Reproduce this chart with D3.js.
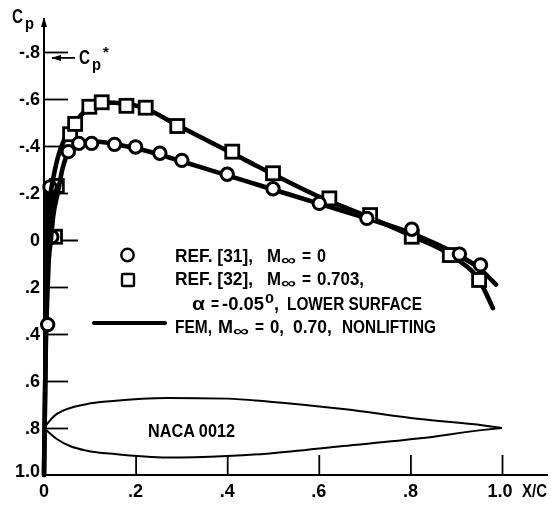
<!DOCTYPE html>
<html>
<head>
<meta charset="utf-8">
<script src="https://d3js.org/d3.v7.min.js"></script>
<style>
  html, body { margin: 0; padding: 0; background: #fff; }
  svg { display: block; filter: blur(0.45px); }
  text { font-family: "Liberation Sans", sans-serif; font-weight: bold; fill: #000; }
</style>
</head>
<body>
<div id="chart"></div>
<script>
// ref. [31], M = 0
const circleX = [0.008, 0.013, 0.017, 0.053, 0.076, 0.104, 0.154, 0.20, 0.253, 0.301, 0.40, 0.50, 0.601, 0.705, 0.803, 0.907, 0.953];
const circleCp = [0.36, -0.226, -0.013, -0.376, -0.411, -0.411, -0.407, -0.396, -0.369, -0.339, -0.28, -0.218, -0.156, -0.092, -0.046, 0.06, 0.106];

// ref. [32], M = 0.703
const squareX = [0.024, 0.028, 0.057, 0.068, 0.099, 0.126, 0.18, 0.222, 0.291, 0.411, 0.50, 0.623, 0.712, 0.803, 0.886, 0.95];
const squareCp = [-0.014, -0.23, -0.45, -0.494, -0.567, -0.586, -0.571, -0.563, -0.485, -0.376, -0.284, -0.177, -0.106, -0.014, 0.064, 0.17];

// FEM curves
const femLowX = [0, 0.002, 0.004, 0.007, 0.01, 0.015, 0.02, 0.03, 0.04, 0.055, 0.075, 0.1, 0.15, 0.2, 0.25, 0.3, 0.4, 0.5, 0.6, 0.7, 0.8, 0.9, 0.95, 0.987];
const femLowCp = [1.0, 0.7, 0.45, 0.25, 0.1, 0, -0.1, -0.2, -0.3, -0.38, -0.41, -0.42, -0.41, -0.39, -0.365, -0.335, -0.275, -0.215, -0.155, -0.095, -0.03, 0.06, 0.12, 0.19];
const femHighX = [0, 0.002, 0.004, 0.006, 0.008, 0.012, 0.02, 0.03, 0.045, 0.06, 0.08, 0.1, 0.13, 0.18, 0.22, 0.29, 0.35, 0.41, 0.5, 0.6, 0.7, 0.8, 0.9, 0.95, 0.98];
const femHighCp = [1.0, 0.7, 0.4, 0.1, 0, -0.15, -0.26, -0.35, -0.43, -0.48, -0.53, -0.565, -0.585, -0.58, -0.56, -0.49, -0.43, -0.37, -0.28, -0.185, -0.105, -0.02, 0.08, 0.17, 0.29];

// airfoil outline, in Cp axis units
const foilX = [0, 0.028, 0.094, 0.15, 0.27, 0.4, 0.493, 0.653, 0.821, 0.96, 1.0];
const foilUpper = [0.8, 0.74, 0.698, 0.685, 0.672, 0.675, 0.688, 0.719, 0.762, 0.789, 0.8];
const foilLower = [0.8, 0.847, 0.897, 0.91, 0.926, 0.919, 0.908, 0.877, 0.844, 0.808, 0.8];

// ticks
const xTicks = [0, 0.2, 0.4, 0.6, 0.8, 1.0];
const xTickLabels = ["0", ".2", ".4", ".6", ".8", "1.0"];
const yTicks = [-0.8, -0.6, -0.4, -0.2, 0, 0.2, 0.4, 0.6, 0.8, 1.0];
const yTickLabels = ["-.8", "-.6", "-.4", "-.2", "0", ".2", ".4", ".6", ".8", "1.0"];
const cpStar = -0.775;

const width = 551;
const height = 505;

const svg = d3.select("#chart").append("svg")
  .attr("width", width)
  .attr("height", height);

const xScale = d3.scaleLinear().domain([0, 1]).range([44, 502]);
const yScale = d3.scaleLinear().domain([-0.8, 1]).range([52, 475]);

// squeezes a text into the width it has in the scan (no narrow font here)
const label = (x, y, txt, size, len) => {
  const t = svg.append("text").attr("x", x).attr("y", y).attr("font-size", size).text(txt);
  if (len) t.attr("textLength", len).attr("lengthAdjust", "spacingAndGlyphs");
  return t;
};

// arrow heads
const defs = svg.append("defs");
defs.append("marker")
  .attr("id", "arrow")
  .attr("viewBox", "0 0 10 6")
  .attr("refX", 9).attr("refY", 3)
  .attr("markerWidth", 10).attr("markerHeight", 6)
  .attr("markerUnits", "userSpaceOnUse")
  .attr("orient", "auto")
  .append("path").attr("d", "M0,0L10,3L0,6Z").attr("fill", "#000");

// X axis, ticks stand up from the axis
const xAxis = d3.axisTop(xScale)
  .tickValues(xTicks.slice(1))
  .tickSize(20)
  .tickFormat("");
svg.append("g")
  .attr("transform", `translate(0, ${yScale(1)})`)
  .call(xAxis)
  .call(g => g.select(".domain").remove())
  .selectAll("line").attr("stroke", "#000").attr("stroke-width", 1.8);

// Y axis, ticks go into the plot
const yAxis = d3.axisRight(yScale)
  .tickValues(yTicks.slice(0, -1))
  .tickSize(24)
  .tickFormat("");
svg.append("g")
  .attr("transform", `translate(${xScale(0)}, 0)`)
  .call(yAxis)
  .call(g => g.select(".domain").remove())
  .selectAll("line").attr("stroke", "#000").attr("stroke-width", 1.8)
  .attr("x2", d => d === 0 ? 34 : 24);

// axis lines
svg.append("line")
  .attr("x1", xScale(0)).attr("x2", 548)
  .attr("y1", yScale(1)).attr("y2", yScale(1))
  .attr("stroke", "#000").attr("stroke-width", 2);
svg.append("line")
  .attr("x1", xScale(0)).attr("x2", xScale(0))
  .attr("y1", yScale(1)).attr("y2", 18)
  .attr("stroke", "#000").attr("stroke-width", 2)
  .attr("marker-end", "url(#arrow)");

// tick labels
svg.selectAll(".xlab")
  .data(xTicks)
  .join("text")
  .attr("class", "xlab")
  .attr("x", (d, i) => i === 5 ? xScale(d) - 2 : xScale(d))
  .attr("y", 497)
  .attr("text-anchor", "middle")
  .attr("font-size", 18)
  .text((d, i) => xTickLabels[i]);

svg.selectAll(".ylab")
  .data(yTicks)
  .join("text")
  .attr("class", "ylab")
  .attr("x", 40)
  .attr("y", d => yScale(d) + (d === 1 ? 2 : 6))
  .attr("text-anchor", "end")
  .attr("font-size", 18)
  .text((d, i) => yTickLabels[i]);

label(522, 497, "X/C", 18, 25);

// Cp title
label(12, 23, "C", 20, 11);
label(25, 29, "p", 17, 9);

// Cp* arrow and label
svg.append("line")
  .attr("x1", 75).attr("x2", xScale(0) + 8)
  .attr("y1", yScale(cpStar)).attr("y2", yScale(cpStar))
  .attr("stroke", "#000").attr("stroke-width", 1.8)
  .attr("marker-end", "url(#arrow)");
label(79, 64, "C", 20, 11);
label(92, 70, "p", 17, 9);
label(103, 57, "*", 15);

// leading edge marks sit under the curves in the scan
const underLine = x => x > 0.01 && x < 0.03;

const drawSquares = keep => {
  svg.append("g").selectAll("rect")
    .data(squareX.map((x, i) => [x, squareCp[i]]).filter(d => keep(d[0])))
    .join("rect")
    .attr("x", d => xScale(d[0]) - 6.5)
    .attr("y", d => yScale(d[1]) - 6.5)
    .attr("width", 13).attr("height", 13)
    .attr("fill", "#fff").attr("stroke", "#000").attr("stroke-width", 2.8);
};
const drawCircles = keep => {
  svg.append("g").selectAll("circle")
    .data(circleX.map((x, i) => [x, circleCp[i]]).filter(d => keep(d[0])))
    .join("circle")
    .attr("cx", d => xScale(d[0]))
    .attr("cy", d => yScale(d[1]))
    .attr("r", 6.2)
    .attr("fill", "#fff").attr("stroke", "#000").attr("stroke-width", 3);
};

drawSquares(underLine);
drawCircles(underLine);

// the curves merge with the axis near the leading edge, solid black in the scan
const lowPts = femLowX.map((x, i) => [x, femLowCp[i]]).filter(d => d[0] <= 0.03);
svg.append("path")
  .attr("d", d3.area()
    .x0(xScale(0))
    .x1(d => xScale(d[0]))
    .y(d => yScale(d[1]))(lowPts))
  .attr("fill", "#000");

// FEM curves
const femLine = d3.line()
  .x(d => xScale(d[0]))
  .y(d => yScale(d[1]))
  .curve(d3.curveMonotoneX);

[[femLowX, femLowCp], [femHighX, femHighCp]].forEach(([xs, ys]) => {
  svg.append("path")
    .attr("d", femLine(xs.map((x, i) => [x, ys[i]])))
    .attr("fill", "none")
    .attr("stroke", "#000")
    .attr("stroke-width", 4.6)
    .attr("stroke-linecap", "round");
});

// airfoil
[foilUpper, foilLower].forEach(ys => {
  svg.append("path")
    .attr("d", femLine(foilX.map((x, i) => [x, ys[i]])))
    .attr("fill", "none")
    .attr("stroke", "#000")
    .attr("stroke-width", 2);
});
label(148, 437, "NACA 0012", 19, 87);

// squares under circles
drawSquares(x => !underLine(x));
drawCircles(x => !underLine(x));

// legend
svg.append("circle").attr("cx", 127.5).attr("cy", 255).attr("r", 6.2)
  .attr("fill", "#fff").attr("stroke", "#000").attr("stroke-width", 2.4);
svg.append("rect").attr("x", 122).attr("y", 274).attr("width", 12).attr("height", 12).attr("rx", 1)
  .attr("fill", "#fff").attr("stroke", "#000").attr("stroke-width", 2.4);
svg.append("line").attr("x1", 94).attr("x2", 165).attr("y1", 323).attr("y2", 323)
  .attr("stroke", "#000").attr("stroke-width", 4).attr("stroke-linecap", "round");

label(175, 262, "REF. [31],", 18, 78);
label(267, 262, "M", 18, 14);
label(281, 265, "∞", 15, 15);
label(302, 262, "=", 18, 9);
label(317, 262, "0", 18, 9);

label(175, 285, "REF. [32],", 18, 78);
label(267, 285, "M", 18, 14);
label(281, 288, "∞", 15, 15);
label(302, 285, "=", 18, 9);
label(317, 285, "0.703,", 18, 47);

label(192, 310, "α", 18, 13);
label(211, 310, "=", 18, 8);
label(222, 310, "-0.05", 18, 42);
label(265, 303, "0", 13, 9);
label(274, 310, ",", 18);
label(287, 310, "LOWER SURFACE", 18, 135);

label(175, 333, "FEM,", 18, 37);
label(218, 333, "M", 18, 15);
label(233, 336, "∞", 15, 16);
label(255, 333, "=", 18, 9);
label(270, 333, "0,", 18, 14);
label(293, 333, "0.70,", 18, 39);
label(342, 333, "NONLIFTING", 18, 94);
</script>
</body>
</html>
